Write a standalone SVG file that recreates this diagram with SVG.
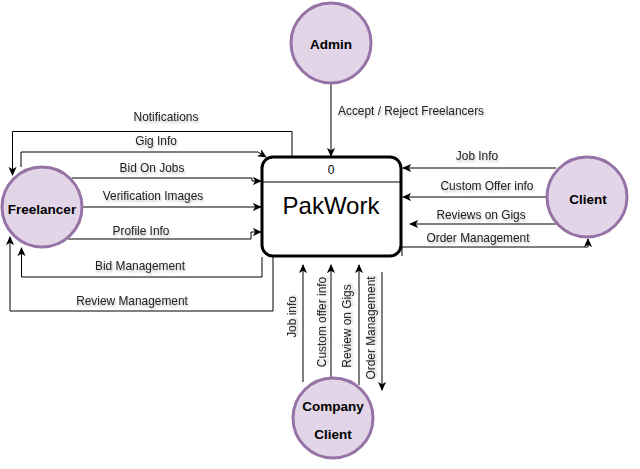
<svg xmlns="http://www.w3.org/2000/svg" width="640" height="469" viewBox="0 0 640 469">
<defs>
<marker id="arr" viewBox="0 0 10 10" refX="9" refY="5" markerWidth="9" markerHeight="9" markerUnits="userSpaceOnUse" orient="auto">
<path d="M0,0.5 L10,5 L0,9.5 L2.5,5 Z" fill="#000"/>
</marker>
<filter id="ts" x="-10%" y="-30%" width="120%" height="160%">
<feGaussianBlur in="SourceAlpha" stdDeviation="0.8"/>
<feOffset dx="1" dy="1.5" result="b"/>
<feComponentTransfer><feFuncA type="linear" slope="0.25"/></feComponentTransfer>
<feMerge><feMergeNode/><feMergeNode in="SourceGraphic"/></feMerge>
</filter>
</defs>
<style>
.ent{fill:#e1d5e7;stroke:#9673a6;stroke-width:3}
.et{font-family:"Liberation Sans",Arial,sans-serif;font-size:13.5px;font-weight:bold;fill:#000;text-anchor:middle}
.c{fill:none;stroke:#000;stroke-width:1;marker-end:url(#arr)}
.lb{font-family:"Liberation Sans",Arial,sans-serif;font-size:11.9px;fill:#222;text-anchor:middle;filter:url(#ts)}
</style>
<rect width="640" height="469" fill="#fff"/>

<g id="connectors">
<path class="c" d="M331,84 V156"/>
<path class="c" d="M292,156 V131.5 H12.5 V175"/>
<path class="c" d="M21,167 V152 H258 L266,157"/>
<path class="c" d="M72,178 H252 V181 H261"/>
<path class="c" d="M83,207 H261"/>
<path class="c" d="M68,239 H251 V232 H261"/>
<path class="c" d="M262,257 V277 H21.5 V248"/>
<path class="c" d="M273,257 V311 H10 V237"/>
<path class="c" d="M556,168 H403"/>
<path class="c" d="M547,197 H403"/>
<path class="c" d="M556,224 H410"/>
<path class="c" d="M402,256 V247 H588 V239"/>
<path class="c" d="M303,382 V265"/>
<path class="c" d="M331,377 V265"/>
<path class="c" d="M359,385 V265"/>
<path class="c" d="M382,272 V390"/>
</g>

<g id="labels">
<text class="lb" x="338" y="115" style="text-anchor:start">Accept / Reject Freelancers</text>
<text class="lb" x="166" y="121">Notifications</text>
<text class="lb" x="156" y="145">Gig Info</text>
<text class="lb" x="152" y="172">Bid On Jobs</text>
<text class="lb" x="153" y="200">Verification Images</text>
<text class="lb" x="141" y="235">Profile Info</text>
<text class="lb" x="140" y="270">Bid Management</text>
<text class="lb" x="132" y="305">Review Management</text>
<text class="lb" x="477" y="160">Job Info</text>
<text class="lb" x="487" y="190">Custom Offer info</text>
<text class="lb" x="481" y="219">Reviews on Gigs</text>
<text class="lb" x="478" y="242">Order Management</text>
<text class="lb" transform="translate(296,317) rotate(-90)">Job info</text>
<text class="lb" transform="translate(326,322) rotate(-90)">Custom offer info</text>
<text class="lb" transform="translate(351,326) rotate(-90)">Review on Gigs</text>
<text class="lb" transform="translate(375,328) rotate(-90)">Order Management</text>
</g>

<g id="pakwork">
<rect x="262" y="157" width="139" height="99" rx="11" ry="11" fill="#fff" stroke="#000" stroke-width="3"/>
<line x1="262" y1="182" x2="401" y2="182" stroke="#000" stroke-width="1"/>
<text x="331" y="174" font-family="'Liberation Sans',Arial,sans-serif" font-size="12" text-anchor="middle" fill="#000">0</text>
<text x="331" y="214" font-family="'Liberation Sans',Arial,sans-serif" font-size="24" text-anchor="middle" fill="#000">PakWork</text>
</g>

<g id="admin">
<circle class="ent" cx="331" cy="43" r="40"/>
<text class="et" x="331" y="49">Admin</text>
</g>

<g id="freelancer">
<circle class="ent" cx="42" cy="207" r="40"/>
<text class="et" x="42" y="214">Freelancer</text>
</g>

<g id="client">
<circle class="ent" cx="587" cy="197" r="40"/>
<text class="et" x="588" y="204">Client</text>
</g>

<g id="company-client">
<circle class="ent" cx="333" cy="418" r="40"/>
<text class="et" x="333" y="411">Company</text>
<text class="et" x="333" y="439">Client</text>
</g>
</svg>
